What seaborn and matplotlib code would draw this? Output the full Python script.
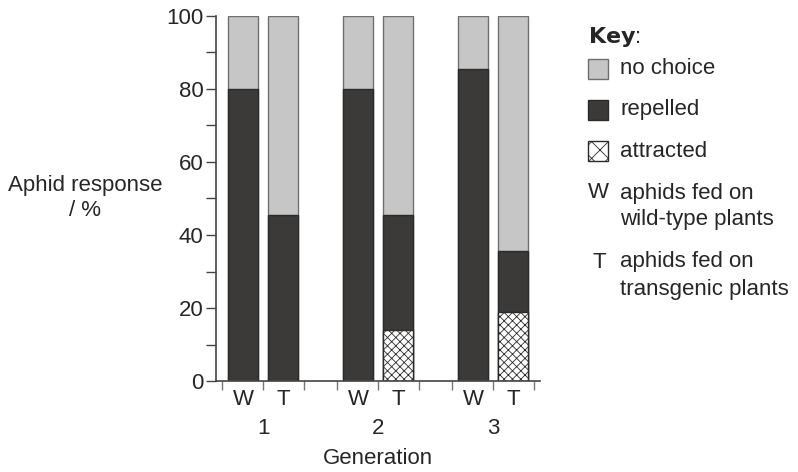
# Aphid response to wild-type vs transgenic plants over three generations

import numpy as np
import pandas as pd
import seaborn as sns
import matplotlib.pyplot as plt
from matplotlib.patches import Rectangle

# ========= 1) DATA (read off the chart) =========
generations = ["1", "2", "3"]
plant_types = ["W", "T"]
attracted = [0, 0, 0, 14, 0, 19]
repelled = [80, 45.5, 80, 31.5, 85.5, 16.5]
no_choice = [20, 54.5, 20, 54.5, 14.5, 64.5]

# ========= 2) Build table =========
GROUP_GAP = 2.875   # distance between generation groups (in bar slots)
rows = []
for gi, gen in enumerate(generations):
    for pj, pt in enumerate(plant_types):
        k = gi * len(plant_types) + pj
        rows.append({
            "generation": gen, "plant": pt,
            "pos": gi * GROUP_GAP + pj,
            "attracted": attracted[k],
            "repelled": repelled[k],
            "no_choice": no_choice[k],
        })
df = pd.DataFrame(rows)
df["top"] = df["attracted"] + df["repelled"] + df["no_choice"]
df["mid"] = df["attracted"] + df["repelled"]

# ========= 3) Style =========
sns.set_style("ticks")
plt.rcParams["font.family"] = ["Liberation Sans", "DejaVu Sans"]
plt.rcParams["hatch.color"] = "#444444"
plt.rcParams["hatch.linewidth"] = 0.6
FS = 16
GREY = "#c6c6c6"
DARK = "#3b3a38"
AX_COL = "#444444"

fig = plt.figure(figsize=(7.98, 4.72), dpi=100)
ax = fig.add_axes([216 / 798, 1 - 381 / 472, 324 / 798, 365 / 472])

# ========= 4) Stacked bars (layered) =========
sns.barplot(data=df, x="pos", y="top", native_scale=True, width=0.75,
            color=GREY, saturation=1, edgecolor="#707070", linewidth=1,
            ax=ax)
sns.barplot(data=df, x="pos", y="mid", native_scale=True, width=0.75,
            color=DARK, saturation=1, edgecolor="#2a2a2a", linewidth=1,
            ax=ax)
n_before = len(ax.patches)
sns.barplot(data=df, x="pos", y="attracted", native_scale=True, width=0.75,
            color="white", saturation=1, edgecolor="#2a2a2a", linewidth=1,
            ax=ax)
for p in ax.patches[n_before:]:
    p.set_hatch("xxxx")
    if p.get_height() == 0:
        p.set_visible(False)

# ========= 5) Axes =========
ax.set_xlim(-0.68, (len(generations) - 1) * GROUP_GAP + 1 + 0.67)
ax.set_ylim(0, 100)
ax.set_yticks(np.arange(0, 101, 20))
ax.set_yticks(np.arange(10, 100, 20), minor=True)
ax.tick_params(axis="y", which="both", direction="out", length=7,
               width=1, color=AX_COL, labelsize=FS, pad=2)

ax.set_xticks(df["pos"])
ax.set_xticklabels(df["plant"], fontsize=FS)
seps = []
for gi in range(len(generations)):
    base = gi * GROUP_GAP
    seps += [base - 0.5 - 0.03, base + 0.5, base + 1.5 + 0.03]
ax.set_xticks(seps, minor=True)
ax.tick_params(axis="x", which="major", length=0, pad=6)
ax.tick_params(axis="x", which="minor", direction="out", length=6.5,
               width=1, color="#777777")

for gi, gen in enumerate(generations):
    ax.text(gi * GROUP_GAP + 0.5, -0.129, gen, transform=ax.get_xaxis_transform(),
            ha="center", va="center", fontsize=FS)

ax.set_xlabel("")
ax.text(0.5, -0.212, "Generation", transform=ax.transAxes,
        ha="center", va="center", fontsize=FS)
ax.set_ylabel("Aphid response\n/ %", rotation=0, ha="center", va="center",
              fontsize=FS, linespacing=1.25)
ax.yaxis.set_label_coords(-0.404, 0.501)

for s in ["top", "right"]:
    ax.spines[s].set_visible(False)
for s in ["left", "bottom"]:
    ax.spines[s].set_color(AX_COL)
    ax.spines[s].set_linewidth(1.2)

# ========= 6) Key =========
def fx(px):
    return px / 798

def fy(py):
    return 1 - py / 472

fig.text(fx(588), fy(37), r"$\bf{Key}$:", fontsize=FS, va="center", ha="left")
boxes = [("no choice", GREY, None, "#6e6e6e", 69),
         ("repelled", DARK, None, "#2a2a2a", 110),
         ("attracted", "white", "xx", "#2a2a2a", 151.5)]
for label, fc, hatch, ec, yc in boxes:
    fig.patches.append(Rectangle((fx(588), fy(yc + 10)), 20 / 798, 20 / 472,
                                 transform=fig.transFigure, facecolor=fc,
                                 edgecolor=ec, hatch=hatch, linewidth=1))
    fig.text(fx(620), fy(yc), label, fontsize=FS, va="center", ha="left")

fig.text(fx(598), fy(193), "W", fontsize=FS, va="center", ha="center")
fig.text(fx(620), fy(193), "aphids fed on", fontsize=FS, va="center", ha="left")
fig.text(fx(620), fy(220), "wild-type plants", fontsize=FS, va="center", ha="left")
fig.text(fx(599), fy(262), "T", fontsize=FS, va="center", ha="center")
fig.text(fx(620), fy(262), "aphids fed on", fontsize=FS, va="center", ha="left")
fig.text(fx(620), fy(289), "transgenic plants", fontsize=FS, va="center", ha="left")

fig.savefig("out.png", dpi=100)
